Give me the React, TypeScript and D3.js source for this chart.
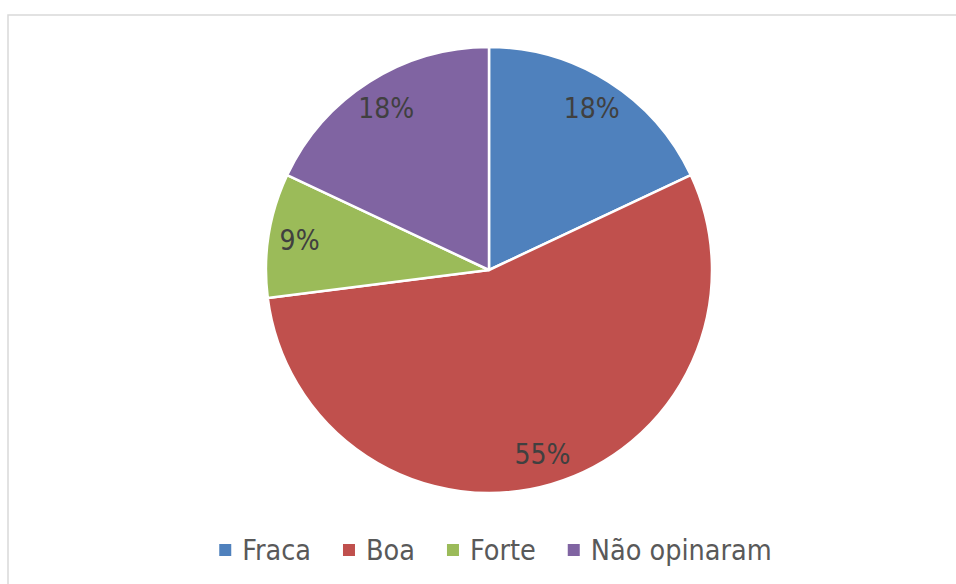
import React, { useEffect, useRef } from "react";
import * as d3 from "d3";

const categories = ["Fraca", "Boa", "Forte", "Não opinaram"];
const values = [18, 55, 9, 18];
const labels = ["18%", "55%", "9%", "18%"];
const colors = ["#4F81BD", "#C0504D", "#9BBB59", "#8064A2"];

const W = 956;
const H = 584;
const FONT = "'DejaVu Sans Condensed', 'DejaVu Sans', sans-serif";

export default function App() {
  const legendRef = useRef<SVGGElement>(null);

  const cx = 489;
  const cy = 270;
  const R = 223;
  const pie = d3.pie<number>().sort(null).value((d) => d)(values);
  const arc = d3.arc<d3.PieArcDatum<number>>().innerRadius(0).outerRadius(R);
  const labelArc = d3.arc<d3.PieArcDatum<number>>().innerRadius(R * 0.86).outerRadius(R * 0.86);

  useEffect(() => {
    const g = d3.select(legendRef.current);
    if (!g.node()) return;
    g.selectAll("*").remove();
    const sq = 12, gapText = 11, gapItem = 32, fs = 28.5;
    const items = g.selectAll("g.item").data(categories).join("g").attr("class", "item");
    items.append("rect").attr("width", sq).attr("height", sq).attr("y", -sq / 2)
      .attr("fill", (_d, i) => colors[i]);
    items.append("text").text((d) => d).attr("x", sq + gapText).attr("y", 0)
      .attr("dy", "0.36em").attr("font-size", fs).attr("font-family", FONT).attr("fill", "#595959");
    let x = 0;
    items.each(function () {
      const t = d3.select(this).select("text").node() as SVGTextElement;
      const w = t.getComputedTextLength();
      d3.select(this).attr("transform", `translate(${x},0)`);
      x += sq + gapText + w + gapItem;
    });
    const total = x - gapItem;
    g.attr("transform", `translate(${495.5 - total / 2},550)`);
  }, []);

  return (
    <svg width={W} height={H} style={{ position: "absolute", left: 0, top: 0, background: "#fff" }}>
      <rect x={8} y={15} width={1000} height={700} fill="#fff" stroke="#D9D9D9" strokeWidth={1.5} />
      <g transform={`translate(${cx},${cy})`}>
        {pie.map((p, i) => (
          <path key={i} d={arc(p) || ""} fill={colors[i]} stroke="#fff" strokeWidth={2.5} strokeLinejoin="round" />
        ))}
        {pie.map((p, i) => {
          const [x, y] = labelArc.centroid(p);
          return (
            <text key={"l" + i} x={x} y={y} dy="0.36em" textAnchor="middle" fontSize={28}
              fontFamily={FONT} fill="#404040">
              {labels[i]}
            </text>
          );
        })}
      </g>
      <g ref={legendRef} />
    </svg>
  );
}
